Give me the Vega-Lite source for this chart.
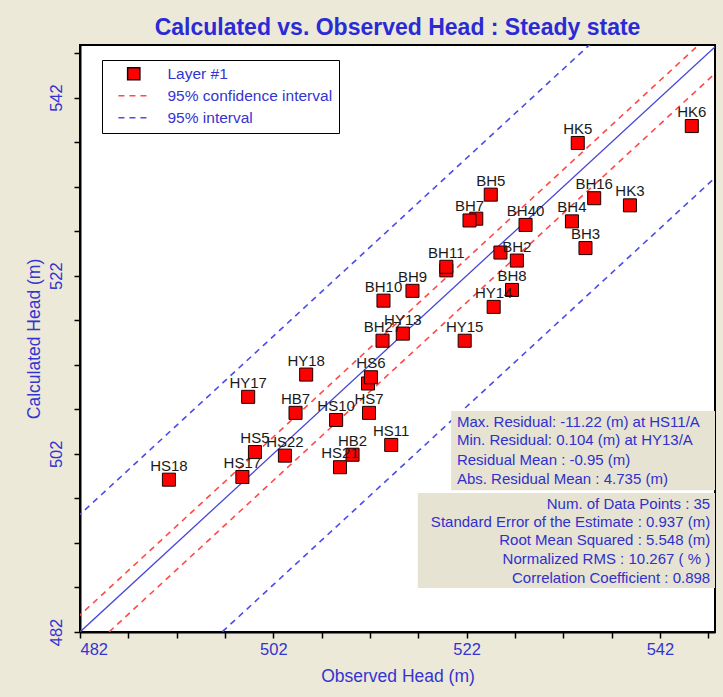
{
  "$schema": "https://vega.github.io/schema/vega-lite/v6.json",
  "width": 635,
  "height": 587,
  "autosize": {"type": "none"},
  "padding": {"left": 80, "top": 45, "right": 8, "bottom": 65},
  "background": "#ECE9D8",
  "title": {
    "text": "Calculated vs. Observed Head : Steady state",
    "font": "Liberation Sans",
    "fontSize": 23,
    "fontWeight": "bold",
    "color": "#2a2ad6",
    "anchor": "middle",
    "offset": 5
  },
  "config": {
    "view": {"stroke": "#000000", "strokeWidth": 2, "fill": "#ffffff"},
    "axis": {
      "grid": false,
      "domainColor": "#000000",
      "domainWidth": 2,
      "tickColor": "#000000",
      "tickWidth": 1.5,
      "tickSize": 6,
      "labelFont": "Liberation Sans",
      "labelFontSize": 16.5,
      "labelColor": "#3434d0",
      "titleFont": "Liberation Sans",
      "titleFontSize": 17.5,
      "titleFontWeight": "normal",
      "titleColor": "#3434d0"
    },
    "legend": {
      "orient": "none",
      "legendX": 22,
      "legendY": 15,
      "fillColor": "#ffffff",
      "strokeColor": "#000000",
      "padding": 6,
      "rowPadding": 5,
      "symbolOffset": 18,
      "labelOffset": 26,
      "symbolSize": 150,
      "symbolStrokeWidth": 1.5,
      "labelFont": "Liberation Sans",
      "labelFontSize": 15.5,
      "labelColor": "#3434d0",
      "labelLimit": 300
    }
  },
  "datasets": {
    "points": [
      {"name": "HS18", "obs": 491.2, "calc": 499.1, "series": "Layer #1", "label": "HS18"},
      {"name": "HS17", "obs": 498.8, "calc": 499.4, "series": "Layer #1", "label": "HS17"},
      {"name": "HS5", "obs": 500.1, "calc": 502.2, "series": "Layer #1", "label": "HS5"},
      {"name": "HS22", "obs": 503.2, "calc": 501.8, "series": "Layer #1", "label": "HS22"},
      {"name": "HS21", "obs": 508.9, "calc": 500.5, "series": "Layer #1", "label": "HS21"},
      {"name": "HB2", "obs": 510.2, "calc": 501.9, "series": "Layer #1", "label": "HB2"},
      {"name": "HS11", "obs": 514.2, "calc": 503.0, "series": "Layer #1", "label": "HS11"},
      {"name": "HS10", "obs": 508.5, "calc": 505.8, "series": "Layer #1", "label": "HS10"},
      {"name": "HS7", "obs": 511.9, "calc": 506.6, "series": "Layer #1", "label": "HS7"},
      {"name": "HB7", "obs": 504.3, "calc": 506.6, "series": "Layer #1", "label": "HB7"},
      {"name": "HY17", "obs": 499.4, "calc": 508.4, "series": "Layer #1", "label": "HY17"},
      {"name": "HY18", "obs": 505.4, "calc": 510.9, "series": "Layer #1", "label": "HY18"},
      {"name": "HS6b", "obs": 511.8, "calc": 509.9, "series": "Layer #1", "label": ""},
      {"name": "HS6", "obs": 512.1, "calc": 510.6, "series": "Layer #1", "label": "HS6"},
      {"name": "BH27", "obs": 513.3, "calc": 514.7, "series": "Layer #1", "label": "BH27"},
      {"name": "HY13", "obs": 515.4, "calc": 515.5, "series": "Layer #1", "label": "HY13"},
      {"name": "BH10", "obs": 513.4, "calc": 519.2, "series": "Layer #1", "label": "BH10"},
      {"name": "BH9", "obs": 516.4, "calc": 520.3, "series": "Layer #1", "label": "BH9"},
      {"name": "BH11b", "obs": 519.9, "calc": 522.6, "series": "Layer #1", "label": ""},
      {"name": "BH11", "obs": 519.9, "calc": 523.0, "series": "Layer #1", "label": "BH11"},
      {"name": "HY15", "obs": 521.8, "calc": 514.7, "series": "Layer #1", "label": "HY15"},
      {"name": "HY14", "obs": 524.8, "calc": 518.5, "series": "Layer #1", "label": "HY14"},
      {"name": "BH8", "obs": 526.7, "calc": 520.4, "series": "Layer #1", "label": "BH8"},
      {"name": "BH2b", "obs": 525.5, "calc": 524.6, "series": "Layer #1", "label": ""},
      {"name": "BH2", "obs": 527.2, "calc": 523.7, "series": "Layer #1", "label": "BH2"},
      {"name": "BH40", "obs": 528.1, "calc": 527.7, "series": "Layer #1", "label": "BH40"},
      {"name": "BH7b", "obs": 523.0, "calc": 528.4, "series": "Layer #1", "label": ""},
      {"name": "BH7", "obs": 522.3, "calc": 528.2, "series": "Layer #1", "label": "BH7"},
      {"name": "BH5", "obs": 524.5, "calc": 531.1, "series": "Layer #1", "label": "BH5"},
      {"name": "BH4", "obs": 532.9, "calc": 528.1, "series": "Layer #1", "label": "BH4"},
      {"name": "BH3", "obs": 534.3, "calc": 525.1, "series": "Layer #1", "label": "BH3"},
      {"name": "BH16", "obs": 535.2, "calc": 530.7, "series": "Layer #1", "label": "BH16"},
      {"name": "HK3", "obs": 538.9, "calc": 529.9, "series": "Layer #1", "label": "HK3"},
      {"name": "HK5", "obs": 533.5, "calc": 536.9, "series": "Layer #1", "label": "HK5"},
      {"name": "HK6", "obs": 545.3, "calc": 538.8, "series": "Layer #1", "label": "HK6"}
    ],
    "bands": [
      {"line": "ci_up", "series": "95% confidence interval", "obs": 480, "calc": 481.9},
      {"line": "ci_up", "series": "95% confidence interval", "obs": 550, "calc": 551.9},
      {"line": "ci_lo", "series": "95% confidence interval", "obs": 480, "calc": 477.0},
      {"line": "ci_lo", "series": "95% confidence interval", "obs": 550, "calc": 547.0},
      {"line": "pi_up", "series": "95% interval", "obs": 480, "calc": 493.2},
      {"line": "pi_up", "series": "95% interval", "obs": 550, "calc": 563.2},
      {"line": "pi_lo", "series": "95% interval", "obs": 480, "calc": 465.3},
      {"line": "pi_lo", "series": "95% interval", "obs": 550, "calc": 535.3}
    ],
    "identity": [
      {"obs": 480, "calc": 480},
      {"obs": 550, "calc": 550}
    ],
    "boxes": [
      {"x1": 520.4, "x2": 547.7, "y1": 497.9, "y2": 506.8},
      {"x1": 516.95, "x2": 547.7, "y1": 486.95, "y2": 497.6}
    ],
    "stats_left": [
      {"text": "Max. Residual: -11.22 (m) at HS11/A", "tx": 521.0, "ty": 505.6},
      {"text": "Min. Residual: 0.104 (m) at HY13/A", "tx": 521.0, "ty": 503.5},
      {"text": "Residual Mean : -0.95 (m)", "tx": 521.0, "ty": 501.3},
      {"text": "Abs. Residual Mean : 4.735 (m)", "tx": 521.0, "ty": 499.2}
    ],
    "stats_right": [
      {"text": "Num. of Data Points : 35", "tx": 547.2, "ty": 496.4},
      {"text": "Standard Error of the Estimate : 0.937 (m)", "tx": 547.2, "ty": 494.3},
      {"text": "Root Mean Squared : 5.548 (m)", "tx": 547.2, "ty": 492.3},
      {"text": "Normalized RMS : 10.267 ( % )", "tx": 547.2, "ty": 490.2},
      {"text": "Correlation Coefficient : 0.898", "tx": 547.2, "ty": 488.1}
    ]
  },
  "encoding": {
    "x": {
      "field": "obs",
      "type": "quantitative",
      "scale": {"domain": [482, 547.7], "nice": false, "zero": false},
      "axis": {
        "title": "Observed Head (m)",
        "values": [482, 487, 492, 497, 502, 507, 512, 517, 522, 527, 532, 537, 542, 547],
        "labelExpr": "(datum.value - 482) % 20 === 0 ? datum.label : ''",
        "labelPadding": 3,
        "titlePadding": 10
      }
    },
    "y": {
      "field": "calc",
      "type": "quantitative",
      "scale": {"domain": [482, 547.9], "nice": false, "zero": false},
      "axis": {
        "title": "Calculated Head (m)",
        "values": [482, 487, 492, 497, 502, 507, 512, 517, 522, 527, 532, 537, 542, 547],
        "labelExpr": "(datum.value - 482) % 20 === 0 ? datum.label : ''",
        "labelAngle": 270,
        "labelAlign": "center",
        "labelBaseline": "bottom",
        "labelPadding": 10,
        "titlePadding": 5
      }
    }
  },
  "layer": [
    {
      "data": {"name": "bands"},
      "mark": {"type": "line", "clip": true, "strokeWidth": 1.6},
      "encoding": {
        "detail": {"field": "line"},
        "stroke": {
          "field": "series",
          "type": "nominal",
          "title": null,
          "scale": {
            "domain": ["Layer #1", "95% confidence interval", "95% interval"],
            "range": ["#1a0000", "#ff4a4a", "#4c4ce8"]
          }
        },
        "strokeDash": {
          "field": "series",
          "type": "nominal",
          "title": null,
          "scale": {
            "domain": ["Layer #1", "95% confidence interval", "95% interval"],
            "range": [[1, 0], [6, 5], [6, 5]]
          }
        }
      }
    },
    {
      "data": {"name": "identity"},
      "mark": {"type": "line", "clip": true, "color": "#4646d8", "strokeWidth": 1.3},
      "encoding": {}
    },
    {
      "data": {"name": "boxes"},
      "mark": {"type": "rect", "color": "#E6E3D3"},
      "encoding": {
        "x": {"field": "x1", "type": "quantitative"},
        "x2": {"field": "x2"},
        "y": {"field": "y1", "type": "quantitative"},
        "y2": {"field": "y2"}
      }
    },
    {
      "data": {"name": "points"},
      "mark": {"type": "point", "filled": true, "size": 170, "strokeWidth": 1, "opacity": 1},
      "encoding": {
        "fill": {
          "field": "series",
          "type": "nominal",
          "title": null,
          "scale": {
            "domain": ["Layer #1", "95% confidence interval", "95% interval"],
            "range": ["#ff0000", "#ff4a4a", "#4c4ce8"]
          }
        },
        "stroke": {
          "field": "series",
          "type": "nominal",
          "title": null,
          "scale": {
            "domain": ["Layer #1", "95% confidence interval", "95% interval"],
            "range": ["#1a0000", "#ff4a4a", "#4c4ce8"]
          }
        },
        "shape": {
          "field": "series",
          "type": "nominal",
          "title": null,
          "scale": {
            "domain": ["Layer #1", "95% confidence interval", "95% interval"],
            "range": ["square", "M-2.5,0H2.5", "M-2.5,0H2.5"]
          }
        }
      }
    },
    {
      "data": {"name": "points"},
      "mark": {"type": "text", "font": "Liberation Sans", "fontSize": 15, "color": "#1a1a1a", "dy": -14, "baseline": "middle"},
      "encoding": {"text": {"field": "label"}}
    },
    {
      "data": {"name": "stats_left"},
      "mark": {"type": "text", "font": "Liberation Sans", "fontSize": 15, "color": "#3030cc", "align": "left", "baseline": "middle"},
      "encoding": {
        "x": {"field": "tx", "type": "quantitative"},
        "y": {"field": "ty", "type": "quantitative"},
        "text": {"field": "text"}
      }
    },
    {
      "data": {"name": "stats_right"},
      "mark": {"type": "text", "font": "Liberation Sans", "fontSize": 15, "color": "#3030cc", "align": "right", "baseline": "middle"},
      "encoding": {
        "x": {"field": "tx", "type": "quantitative"},
        "y": {"field": "ty", "type": "quantitative"},
        "text": {"field": "text"}
      }
    }
  ]
}
